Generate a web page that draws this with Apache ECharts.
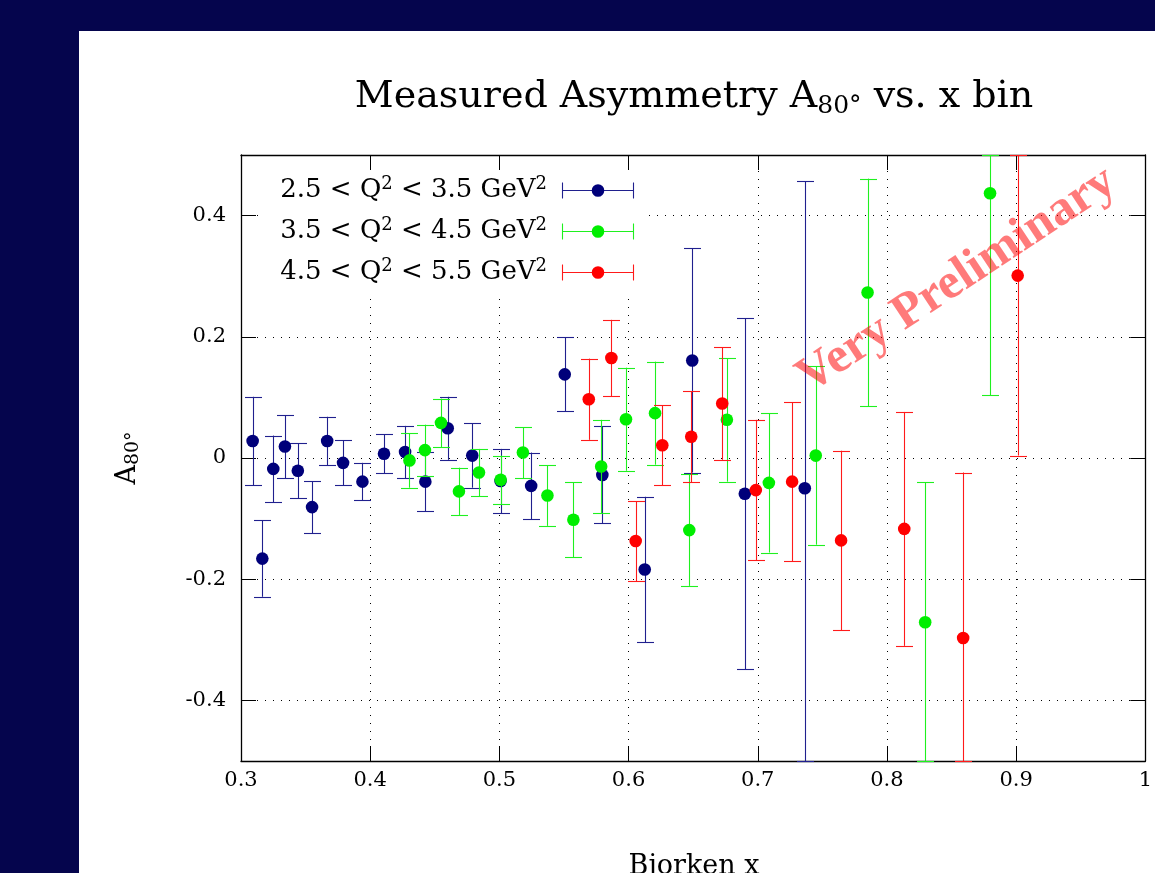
<!DOCTYPE html>
<html><head><meta charset="utf-8">
<script src="https://cdn.jsdelivr.net/npm/echarts@6/dist/echarts.min.js"></script>
<style>
html,body{margin:0;padding:0;background:#05054d;width:1155px;height:873px;overflow:hidden}
#panel{position:absolute;left:79px;top:31px;width:1076px;height:842px;background:#fff}
#chart{width:1076px;height:842px}
</style></head><body>
<div id="panel"><div id="chart"></div></div>
<script>
// ---- data ----
const seriesNames = ['2.5 < Q² < 3.5 GeV²', '3.5 < Q² < 4.5 GeV²', '4.5 < Q² < 5.5 GeV²'];
const xTicks = [0.3, 0.4, 0.5, 0.6, 0.7, 0.8, 0.9, 1.0];
const yTicks = [-0.4, -0.2, 0, 0.2, 0.4];

const blueX   = [0.309, 0.3165, 0.325, 0.334, 0.344, 0.355, 0.3667, 0.379, 0.394, 0.4107, 0.427, 0.4427, 0.460, 0.479, 0.5009, 0.5246, 0.5506, 0.5797, 0.6125, 0.6493, 0.690, 0.7364];
const blueY   = [0.028, -0.166, -0.018, 0.019, -0.021, -0.081, 0.028, -0.008, -0.039, 0.007, 0.010, -0.039, 0.049, 0.004, -0.038, -0.046, 0.138, -0.028, -0.184, 0.161, -0.059, -0.050];
const blueErr = [0.073, 0.063, 0.055, 0.052, 0.045, 0.043, 0.040, 0.037, 0.031, 0.032, 0.043, 0.049, 0.052, 0.053, 0.053, 0.055, 0.061, 0.080, 0.120, 0.185, 0.290, 0.507];

const greenX   = [0.4304, 0.4424, 0.4548, 0.4687, 0.4842, 0.501, 0.5182, 0.5372, 0.5573, 0.5788, 0.598, 0.6205, 0.647, 0.6761, 0.7086, 0.7449, 0.785, 0.8296, 0.8798];
const greenY   = [-0.004, 0.013, 0.058, -0.055, -0.024, -0.036, 0.009, -0.062, -0.102, -0.014, 0.064, 0.074, -0.119, 0.063, -0.041, 0.004, 0.273, -0.271, 0.437];
const greenErr = [0.045, 0.042, 0.040, 0.039, 0.039, 0.040, 0.042, 0.050, 0.062, 0.077, 0.085, 0.085, 0.092, 0.102, 0.115, 0.147, 0.188, 0.231, 0.333];

const redX   = [0.5692, 0.5867, 0.6055, 0.6261, 0.6485, 0.6725, 0.6985, 0.7266, 0.7645, 0.8134, 0.859, 0.9012];
const redY   = [0.097, 0.165, -0.137, 0.021, 0.035, 0.090, -0.053, -0.039, -0.136, -0.117, -0.297, 0.301];
const redErr = [0.067, 0.063, 0.066, 0.066, 0.075, 0.093, 0.116, 0.131, 0.148, 0.193, 0.273, 0.297];

const colors = ['#00007a', '#00ee00', '#ff0000'];
const barColors = ['#20208e', '#1ff01f', '#ff1a1a'];

// ---- chart ----
const FONT = 'DejaVu Serif';
const chart = echarts.init(document.getElementById('chart'), null, {renderer: 'canvas'});

function zip(xs, ys, es) { return xs.map((x, i) => [x, ys[i], es[i]]); }

function makeRender(idx) {
  return function (params, api) {
    const x = api.value(0), y = api.value(1), e = api.value(2);
    const c = api.coord([x, y]);
    const t = api.coord([x, y + e]);
    const b = api.coord([x, y - e]);
    const cs = params.coordSys;
    const yTop = Math.max(t[1], cs.y);
    const yBot = Math.min(b[1], cs.y + cs.height);
    const hw = 8.5;
    const px = Math.round(c[0]) + 0.5;
    const st = {stroke: barColors[idx], lineWidth: 1.1};
    const children = [
      {type: 'line', shape: {x1: px, y1: yTop, x2: px, y2: yBot}, style: st},
      {type: 'line', shape: {x1: px - hw, y1: Math.round(yTop) + 0.5, x2: px + hw, y2: Math.round(yTop) + 0.5}, style: st},
      {type: 'line', shape: {x1: px - hw, y1: Math.round(yBot) + 0.5, x2: px + hw, y2: Math.round(yBot) + 0.5}, style: st}
    ];
    if (c[1] >= cs.y && c[1] <= cs.y + cs.height) {
      children.push({type: 'circle', shape: {cx: c[0], cy: c[1], r: 6.3}, style: {fill: colors[idx]}});
    }
    return {type: 'group', children: children};
  };
}

const datasets = [zip(blueX, blueY, blueErr), zip(greenX, greenY, greenErr), zip(redX, redY, redErr)];

const GL = 162, GT = 124, GW = 906, GH = 606;

const axisCommon = {
  min: 0, max: 1,
  axisLine: {show: true, onZero: false, lineStyle: {color: '#000', width: 1.3}},
  axisTick: {show: true, inside: true, length: 15, lineStyle: {color: '#000', width: 1}},
  splitLine: {show: false},
  axisLabel: {show: false}
};

const option = {
  animation: false,
  backgroundColor: '#fff',
  grid: {left: GL, top: GT, width: GW, height: GH, containLabel: false},
  xAxis: [
    Object.assign({}, axisCommon, {
      type: 'value', position: 'bottom', min: 0.3, max: 1.0, interval: 0.1,
      splitLine: {show: true, lineStyle: {color: '#000', type: [1, 7], width: 1}},
      axisLabel: {show: true, margin: 9, fontFamily: FONT, fontSize: 21, color: '#000',
        formatter: v => (Math.abs(v - 1) < 1e-9 ? '1' : v.toFixed(1))}
    }),
    Object.assign({}, axisCommon, {type: 'value', position: 'top', min: 0.3, max: 1.0, interval: 0.1})
  ],
  yAxis: [
    Object.assign({}, axisCommon, {
      type: 'value', position: 'left', min: -0.5, max: 0.5,
      axisTick: {show: true, inside: true, length: 15, customValues: yTicks, lineStyle: {color: '#000', width: 1}},
      splitLine: {show: true, lineStyle: {color: '#000', type: [1, 7], width: 1}},
      axisLabel: {show: true, margin: 15, fontFamily: FONT, fontSize: 21, color: '#000', customValues: yTicks,
        formatter: v => (Math.abs(v) < 1e-9 ? '0' : v.toFixed(1))}
    }),
    Object.assign({}, axisCommon, {
      type: 'value', position: 'right', min: -0.5, max: 0.5,
      axisTick: {show: true, inside: true, length: 15, customValues: yTicks, lineStyle: {color: '#000', width: 1}}
    })
  ],
  series: datasets.map((d, i) => ({
    type: 'custom', name: seriesNames[i], xAxisIndex: 0, yAxisIndex: 0,
    renderItem: makeRender(i), data: d, z: 3, clip: false
  })),
  graphic: [
    // opaque key box (hides grid behind legend)
    {type: 'rect', z: 1, silent: true, shape: {x: 179, y: 140, width: 390, height: 126}, style: {fill: '#fff'}},
    // title
    {type: 'text', z: 5, x: 615, y: 66, style: {
      text: '{n|Measured Asymmetry A}{s|80°}{n| vs. x bin}', align: 'center', verticalAlign: 'middle',
      rich: {n: {fontFamily: FONT, fontSize: 38, lineHeight: 44, fill: '#000', verticalAlign: 'middle'},
             s: {fontFamily: FONT, fontSize: 25, lineHeight: 25, fill: '#000', verticalAlign: 'bottom', padding: [22, 0, 0, 0]}}}},
    // y axis title
    {type: 'text', z: 5, x: 49, y: 427, rotation: Math.PI / 2, style: {
      text: '{n|A}{s|80°}', align: 'center', verticalAlign: 'middle',
      rich: {n: {fontFamily: FONT, fontSize: 27, lineHeight: 30, fill: '#000'},
             s: {fontFamily: FONT, fontSize: 19, lineHeight: 19, fill: '#000', verticalAlign: 'bottom', padding: [15, 0, 0, 0]}}}},
    // x axis title
    {type: 'text', z: 5, x: 615, y: 836, style: {
      text: 'Bjorken x', align: 'center', verticalAlign: 'middle', fontFamily: FONT, fontSize: 27, fill: '#000'}},
    // watermark
    {type: 'text', z: 6, x: 878, y: 249, rotation: 0.585, silent: true, style: {
      text: 'Very Preliminary', align: 'center', verticalAlign: 'middle', fontFamily: 'Liberation Serif',
      fontWeight: 'bold', fontSize: 50, fill: 'rgba(255,0,0,0.52)'}}
  ]
};

// legend (key) drawn as graphics
seriesNames.forEach((name, i) => {
  const yy = 159 + 41 * i;
  const parts = name.split('²');
  option.graphic.push({type: 'text', z: 5, x: 468, y: yy, style: {
    text: '{n|' + parts[0] + '}{s|2}{n|' + parts[1] + '}{s|2}', align: 'right', verticalAlign: 'middle',
    rich: {n: {fontFamily: FONT, fontSize: 26, lineHeight: 30, fill: '#000', verticalAlign: 'middle'},
           s: {fontFamily: FONT, fontSize: 18, lineHeight: 18, fill: '#000', verticalAlign: 'top', padding: [0, 0, 13, 0]}}}});
  const st = {stroke: barColors[i], lineWidth: 1.1};
  const yl = yy + 0.5;
  option.graphic.push({type: 'line', z: 5, shape: {x1: 483, y1: yl, x2: 555, y2: yl}, style: st});
  option.graphic.push({type: 'line', z: 5, shape: {x1: 483.5, y1: yl - 8, x2: 483.5, y2: yl + 8}, style: st});
  option.graphic.push({type: 'line', z: 5, shape: {x1: 554.5, y1: yl - 8, x2: 554.5, y2: yl + 8}, style: st});
  option.graphic.push({type: 'circle', z: 5, shape: {cx: 519, cy: yy + 0.5, r: 6.3}, style: {fill: colors[i]}});
});

chart.setOption(option);
</script>
</body></html>
